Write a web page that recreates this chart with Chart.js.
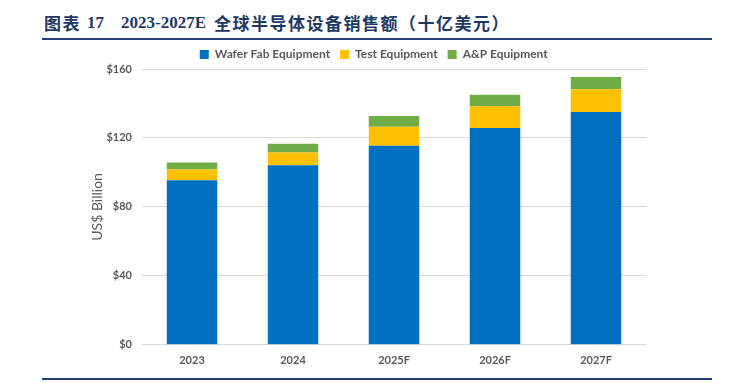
<!DOCTYPE html>
<html>
<head>
<meta charset="utf-8">
<script src="https://cdn.jsdelivr.net/npm/chart.js@4/dist/chart.umd.min.js"></script>
<style>
  html, body { margin: 0; padding: 0; background: #fff; }
  #wrap { position: relative; width: 732px; height: 383px; overflow: hidden; }
  #title { position: absolute; left: 44px; top: 11px; font-weight: bold; font-size: 17px; line-height: 24px; color: #1F3864; white-space: pre; }
  #title span { position: absolute; top: 0; }
  .cjk { font-family: "Noto Sans CJK SC", sans-serif; letter-spacing: 1.5px; }
  .lat { font-family: "Liberation Serif", serif; }
  .rule { position: absolute; left: 42px; width: 670px; height: 2px; background: #1F3F7A; }
  #c { position: absolute; left: 0; top: 0; }
</style>
</head>
<body>
<div id="wrap">
  <div id="title"><span class="cjk" style="left:0">图表</span><span class="lat" style="left:43px">17</span><span class="lat" style="left:77px">2023-2027E</span><span class="cjk" style="left:170px">全球半导体设备销售额（十亿美元）</span></div>
  <div class="rule" style="top:38px"></div>
  <div class="rule" style="top:378px"></div>
  <canvas id="c" width="732" height="383"></canvas>
</div>
<script>
const categories = ["2023", "2024", "2025F", "2026F", "2027F"];
const waferFab = [95.5, 104.1, 115.5, 125.8, 135.1];
const testEq = [6.2, 7.5, 11.0, 12.6, 13.2];
const apEq = [4.1, 5.1, 6.2, 6.6, 7.1];
const seriesNames = ["Wafer Fab Equipment", "Test Equipment", "A&P Equipment"];
const yTicks = [0, 40, 80, 120, 160];

const gray = "#595959";
const barDefaults = { barPercentage: 0.5, categoryPercentage: 1.0, borderWidth: 0 };

const legendTweak = {
  id: "legendTweak",
  beforeInit(chart) {
    const lg = chart.legend;
    if (!lg) return;
    const origFit = lg.fit.bind(lg);
    lg.fit = function () { origFit(); this.height -= 1.5; };
    const origDraw = lg.draw.bind(lg);
    lg.draw = function () {
      const ctx = this.ctx;
      ctx.save();
      ctx.translate(6, 0);
      origDraw();
      ctx.restore();
    };
  }
};

new Chart(document.getElementById("c"), {
  type: "bar",
  data: {
    labels: categories,
    datasets: [
      Object.assign({ label: seriesNames[0], data: waferFab, backgroundColor: "#0070C0" }, barDefaults),
      Object.assign({ label: seriesNames[1], data: testEq, backgroundColor: "#FFC000" }, barDefaults),
      Object.assign({ label: seriesNames[2], data: apEq, backgroundColor: "#70AD47" }, barDefaults)
    ]
  },
  plugins: [legendTweak],
  options: {
    responsive: false,
    animation: false,
    devicePixelRatio: 1,
    layout: { padding: { top: 38.5, left: 89, right: 85.5, bottom: 7 } },
    plugins: {
      legend: {
        position: "top",
        labels: {
          boxWidth: 9, boxHeight: 9, padding: 10,
          color: gray,
          font: { family: "Lato", size: 12, weight: "bold" }
        }
      },
      tooltip: { enabled: false }
    },
    scales: {
      x: {
        stacked: true,
        grid: { display: false, drawTicks: false },
        border: { display: false },
        ticks: { color: gray, padding: 9, font: { family: "Lato", size: 11, weight: "bold" } }
      },
      y: {
        stacked: true,
        min: 0, max: 160,
        afterBuildTicks: (s) => { s.ticks = yTicks.map(v => ({ value: v })); },
        afterFit: (s) => { s.width = 52.5; },
        grid: { color: "#D9D9D9", lineWidth: 1, drawTicks: false },
        border: { display: false },
        ticks: { color: gray, padding: 9.5, font: { family: "Lato", size: 11, weight: "bold" }, callback: (v) => "$" + v },
        title: { display: true, text: "US$ Billion", color: gray, padding: 0, font: { family: "Lato", size: 14 } }
      }
    }
  }
});
</script>
</body>
</html>
